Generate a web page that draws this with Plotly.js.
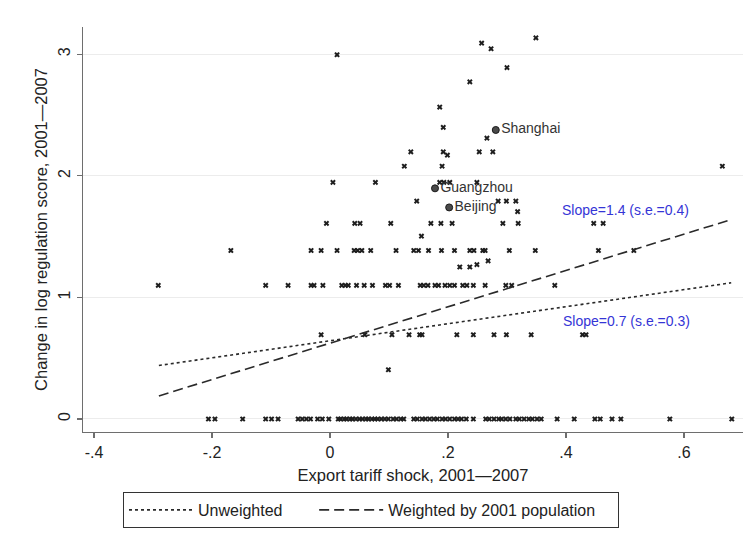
<!DOCTYPE html>
<html>
<head>
<meta charset="utf-8">
<script src="https://cdn.plot.ly/plotly-3.0.1.min.js"></script>
<style>
  html, body { margin: 0; padding: 0; background: #ffffff; }
  #chart { width: 751px; height: 552px; }
</style>
</head>
<body>
<div id="chart"></div>
<script>
// Export tariff shock (x) for prefectures, grouped by their change in log regulation score (y)
const shockAtZero = [-0.206, -0.195, -0.148, -0.109, -0.099, -0.088, -0.054, -0.047, -0.040, -0.033,
  -0.021, -0.013, -0.002, 0.014, 0.018, 0.024, 0.028, 0.034, 0.038, 0.044, 0.050, 0.055, 0.061,
  0.065, 0.071, 0.076, 0.081, 0.087, 0.093, 0.099, 0.107, 0.113, 0.120, 0.125, 0.142, 0.148, 0.156,
  0.162, 0.169, 0.176, 0.182, 0.190, 0.196, 0.203, 0.211, 0.217, 0.223, 0.231, 0.243, 0.264, 0.270,
  0.278, 0.286, 0.291, 0.298, 0.305, 0.315, 0.321, 0.329, 0.337, 0.343, 0.351, 0.358, 0.385, 0.414,
  0.449, 0.458, 0.478, 0.493, 0.576, 0.681];
const shockAtLog2 = [-0.015, 0.059, 0.105, 0.134, 0.152, 0.156, 0.215, 0.243, 0.278, 0.299, 0.341, 0.428, 0.434];
const shockAtLog3 = [-0.291, -0.109, -0.071, -0.032, -0.027, -0.012, 0.020, 0.026, 0.031, 0.045, 0.058,
  0.072, 0.094, 0.101, 0.116, 0.153, 0.159, 0.166, 0.178, 0.184, 0.195, 0.203, 0.211, 0.225, 0.232,
  0.243, 0.263, 0.298, 0.308, 0.381];
const shockAtLog4 = [-0.168, -0.032, -0.015, 0.012, 0.041, 0.047, 0.054, 0.069, 0.112, 0.142, 0.150,
  0.167, 0.189, 0.211, 0.237, 0.244, 0.259, 0.263, 0.304, 0.348, 0.455, 0.515];
const shockAtLog5 = [-0.006, 0.042, 0.051, 0.103, 0.171, 0.188, 0.207, 0.293, 0.319, 0.447, 0.463];
const shockAtLog6 = [0.147, 0.285, 0.299, 0.315];
const shockAtLog7 = [0.005, 0.077, 0.186, 0.193, 0.203, 0.249];
const shockAtLog8 = [0.126, 0.190, 0.665];
const shockAtLog9 = [0.137, 0.192, 0.253, 0.276];

// Regulation score changes for each group above
const rowScores = [0, 0.693, 1.099, 1.386, 1.609, 1.792, 1.946, 2.079, 2.197];

// Remaining prefectures off those rows
const otherShock = [0.099, 0.220, 0.237, 0.249, 0.268, 0.155, 0.318, 0.199, 0.266, 0.192, 0.186,
  0.237, 0.300, 0.012, 0.273, 0.257, 0.349];
const otherScore = [0.405, 1.250, 1.250, 1.270, 1.300, 1.504, 1.705, 2.170, 2.310, 2.398, 2.565,
  2.773, 2.890, 2.996, 3.045, 3.091, 3.135];

// Highlighted cities
const cityNames = ["Shanghai", "Guangzhou", "Beijing"];
const cityShock = [0.281, 0.178, 0.202];
const cityScore = [2.377, 1.897, 1.740];

// Fitted lines (end points over the sample range)
const fitShock = [-0.29, 0.68];
const fitUnweighted = [0.44, 1.12];
const fitWeighted = [0.19, 1.64];
const fitNames = ["Unweighted", "Weighted by 2001 population"];
const slopeLabels = ["Slope=1.4 (s.e.=0.4)", "Slope=0.7 (s.e.=0.3)"];

const xTickVals = [-0.4, -0.2, 0, 0.2, 0.4, 0.6];
const xTickText = ["-.4", "-.2", "0", ".2", ".4", ".6"];
const yTickVals = [0, 1, 2, 3];
const yTickText = ["0", "1", "2", "3"];

// Assemble the scatter cloud
const rows = [shockAtZero, shockAtLog2, shockAtLog3, shockAtLog4, shockAtLog5,
  shockAtLog6, shockAtLog7, shockAtLog8, shockAtLog9];
const cloudX = [];
const cloudY = [];
rows.forEach((xs, i) => {
  xs.forEach(v => { cloudX.push(v); cloudY.push(rowScores[i]); });
});
otherShock.forEach((v, i) => { cloudX.push(v); cloudY.push(otherScore[i]); });

const FONT = "Liberation Sans, Arial, Helvetica, sans-serif";
const INK = "#222222";
const AXIS = "#6e6e6e";
const NBSP = "\u00a0";

const traces = [
  {
    type: "scatter", mode: "markers", x: cloudX, y: cloudY, showlegend: false,
    hoverinfo: "skip",
    marker: { symbol: "x", size: 5, color: "#1e1e1e", line: { width: 0 } }
  },
  {
    type: "scatter", mode: "lines", x: fitShock, y: fitUnweighted,
    name: fitNames[0] + NBSP.repeat(6),
    line: { color: "#2a2a2a", width: 1.6, dash: "3px,3px" }
  },
  {
    type: "scatter", mode: "lines", x: fitShock, y: fitWeighted,
    name: fitNames[1] + NBSP.repeat(4),
    line: { color: "#2a2a2a", width: 1.6, dash: "10px,5px" }
  },
  {
    type: "scatter", mode: "markers+text", x: cityShock, y: cityScore, text: cityNames,
    textposition: "middle right", showlegend: false, hoverinfo: "skip",
    textfont: { family: FONT, size: 14, color: "#333333" },
    marker: { symbol: "circle", size: 7, color: "#4a4a4a", line: { color: "#1a1a1a", width: 1 } }
  }
];

const layout = {
  width: 751, height: 552,
  paper_bgcolor: "#ffffff", plot_bgcolor: "#ffffff",
  margin: { l: 83, r: 8, t: 27, b: 120 },
  font: { family: FONT, size: 16, color: INK },
  xaxis: {
    range: [-0.4186, 0.70],
    tickvals: xTickVals, ticktext: xTickText,
    ticks: "outside", ticklen: 5, tickwidth: 1.3, tickcolor: AXIS,
    showline: true, linecolor: AXIS, linewidth: 1.3,
    showgrid: false, zeroline: false,
    tickfont: { family: FONT, size: 16, color: INK },
    title: { text: "Export tariff shock, 2001\u20142007", font: { family: FONT, size: 16.5, color: INK }, standoff: 10 }
  },
  yaxis: {
    range: [-0.107, 3.224],
    tickvals: yTickVals, ticktext: yTickText, tickangle: -90,
    ticks: "outside", ticklen: 5, tickwidth: 1.3, tickcolor: AXIS,
    showline: true, linecolor: AXIS, linewidth: 1.3,
    showgrid: true, gridcolor: "#ececec", gridwidth: 1, zeroline: false,
    tickfont: { family: FONT, size: 16, color: INK },
    title: { text: "Change in log regulation score, 2001\u20142007", font: { family: FONT, size: 16.5, color: INK }, standoff: 4 }
  },
  showlegend: true,
  legend: {
    orientation: "h", x: 0.0606, xanchor: "left", y: -0.148, yanchor: "top",
    bordercolor: "#333333", borderwidth: 1, bgcolor: "#ffffff",
    font: { family: FONT, size: 16, color: INK },
    traceorder: "normal", itemwidth: 64
  },
  annotations: [
    { x: 0.39, y: 1.72, xref: "x", yref: "y", xanchor: "left", yanchor: "middle",
      text: slopeLabels[0], showarrow: false, font: { family: FONT, size: 14, color: "#3535d6" } },
    { x: 0.391, y: 0.81, xref: "x", yref: "y", xanchor: "left", yanchor: "middle",
      text: slopeLabels[1], showarrow: false, font: { family: FONT, size: 14, color: "#3535d6" } }
  ]
};

Plotly.newPlot("chart", traces, layout, { displayModeBar: false, staticPlot: true });
</script>
</body>
</html>
